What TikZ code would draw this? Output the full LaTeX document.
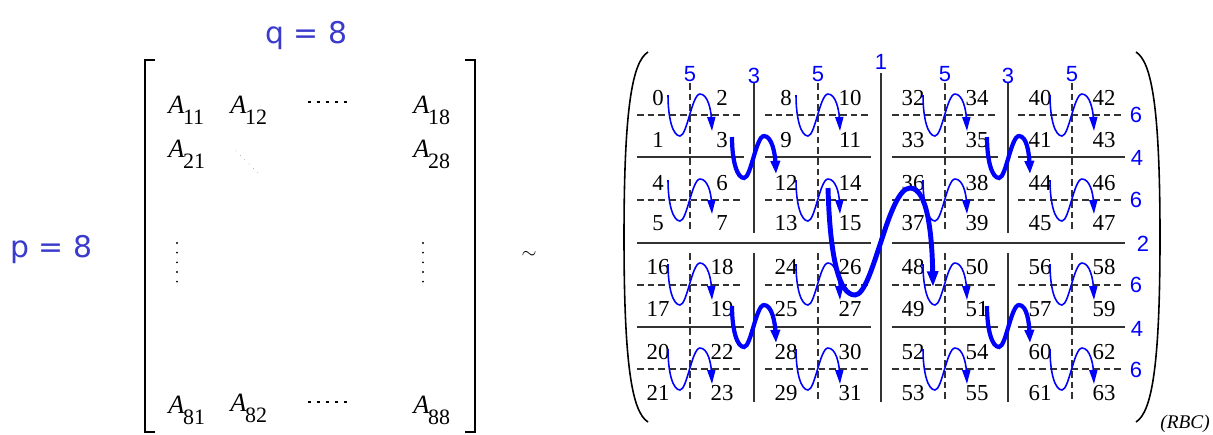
\documentclass[tikz,border=0pt]{standalone}
\usepackage{fontspec}
\setmainfont{Liberation Serif}
\newfontfamily\lblfont{Liberation Sans}
\newfontfamily\pqfont{DejaVu Sans}
\usetikzlibrary{arrows.meta}

\definecolor{pqblue}{RGB}{58,58,204}
\definecolor{gridgray}{RGB}{50,50,50}

% matrix entry A_{ij}
\newcommand{\Aent}[1]{{\fontsize{15}{15}\selectfont\itshape A}\kern-0.8pt\raisebox{-6.8pt}{\fontsize{12.5}{13}\selectfont #1}}
% serpentine arrow from one cell to another
\newcommand{\snake}[3][]{%
  \draw[#1] ([shift={(10,-3)}]#2.center)
    .. controls +(0,24) and +(-7,0) .. ++(12,41)
    .. controls +(7,0) and +(-8,0) .. ++(20,-42)
    .. controls +(8,0) and +(-1,-20) .. ([shift={(-10,-9)}]#3.center);}

\begin{document}
\begin{tikzpicture}[
  x=0.02cm, y=-0.02cm,
  num/.style={font=\fontsize{13}{13}\selectfont, inner sep=1pt},
  lbl/.style={font=\lblfont\fontsize{12.5}{12.5}\selectfont, text=blue, inner sep=0pt},
  pq/.style={font=\pqfont\fontsize{17}{17}\selectfont, text=pqblue, inner sep=0pt, anchor=base west},
  entry/.style={inner sep=0pt, anchor=base west},
  rule/.style={gridgray, line width=1.3pt},
  dashrule/.style={gridgray, line width=0.8pt, dash pattern=on 3.8pt off 2.3pt},
  bracket/.style={line width=1.1pt},
  paren/.style={line width=0.9pt},
  hdots/.style={line width=0.6pt, dash pattern=on 1.7pt off 3.4pt},
  vdots/.style={line width=1.2pt, line cap=round, dash pattern=on 0pt off 5.5pt},
  ddots/.style={gray, line width=0.5pt, line cap=round, dash pattern=on 0pt off 3.5pt},
  thinarr/.style={blue, line width=0.9pt, -{Triangle[length=8pt,width=4.6pt]}},
  thickarr/.style={blue, line width=2.4pt, -{Triangle[length=7.5pt,width=5.2pt]}},
  bigarr/.style={blue, line width=2.8pt, -{Triangle[length=9pt,width=6pt]}}
]
\useasboundingbox (0,0) rectangle (1213,434);

% --- labels p, q ---
\node[pq] (qlab) at (265,43) {q = 8};
\node[pq] (plab) at (10,257) {p = 8};

% --- left matrix ---
\draw[bracket] (155,60) -- (145,60) -- (145,432) -- (155,432);
\draw[bracket] (465,60) -- (475,60) -- (475,432) -- (465,432);
\node[entry] (a11) at (168,113) {\Aent{11}};
\node[entry] (a12) at (230,113) {\Aent{12}};
\node[entry] (a18) at (413,113) {\Aent{18}};
\node[entry] (a21) at (168,157) {\Aent{21}};
\node[entry] (a28) at (413,157) {\Aent{28}};
\node[entry] (a81) at (168,413) {\Aent{81}};
\node[entry] (a82) at (230,411) {\Aent{82}};
\node[entry] (a88) at (413,413) {\Aent{88}};
\draw[hdots] (308,102) -- (347,102);
\draw[hdots] (308,402) -- (347,402);
\draw[vdots] (177,243) -- (177,283);
\draw[vdots] (423,243) -- (423,283);
\draw[ddots] (236,151) -- (261,176);

\node (sim) at (529,255) {\fontsize{11}{11}\selectfont$\sim$};

% --- right matrix: parentheses ---
\draw[paren] (648,52) .. controls (632,62) and (624,110) .. (624,237)
  .. controls (624,365) and (632,412) .. (648,422);
\draw[paren] (1136,52) .. controls (1152,62) and (1160,110) .. (1160,237)
  .. controls (1160,365) and (1152,412) .. (1136,422);

% --- grid ---
\foreach \x in {754,1008} {
  \draw[rule] (\x,83) -- (\x,233);
  \draw[rule] (\x,253) -- (\x,402);
}
\draw[rule] (881,73) -- (881,402);
\foreach \x in {690,818,945,1072} {
  \draw[dashrule] (\x,83) -- (\x,233);
  \draw[dashrule] (\x,253) -- (\x,402);
}
\foreach \a/\b in {637/744,765/871,892/998,1018/1125} {
  \draw[rule] (\a,157) -- (\b,157);
  \draw[rule] (\a,327) -- (\b,327);
  \foreach \y in {115,200,285,369} \draw[dashrule] (\a,\y) -- (\b,\y);
}
\draw[rule] (637,243) -- (871,243);
\draw[rule] (892,243) -- (1125,243);

% --- cell numbers (recursive block order) ---
\foreach \j/\x in {0/658,1/722,2/786,3/850,4/913,5/977,6/1040,7/1104}
  \foreach \i/\y in {0/98,1/140,2/183,3/223,4/267,5/309,6/352,7/393} {
    \pgfmathtruncatemacro\v{32*(\j>3)+16*(\i>3)+8*(mod(\j,4)>1)+4*(mod(\i,4)>1)+2*mod(\j,2)+mod(\i,2)}
    \node[num] (n\v) at (\x,\y) {\v};
  }

% --- blue split labels ---
\node[lbl] (t1) at (690,74) {5};
\node[lbl] (t2) at (754,76) {3};
\node[lbl] (t3) at (818,74) {5};
\node[lbl] (t4) at (881,62) {1};
\node[lbl] (t5) at (945,74) {5};
\node[lbl] (t6) at (1008,76) {3};
\node[lbl] (t7) at (1072,74) {5};
\node[lbl] (s1) at (1136,115) {6};
\node[lbl] (s2) at (1137,158) {4};
\node[lbl] (s3) at (1136,200) {6};
\node[lbl] (s4) at (1143,244) {2};
\node[lbl] (s5) at (1136,285) {6};
\node[lbl] (s6) at (1137,329) {4};
\node[lbl] (s7) at (1136,370) {6};

\node (rbc) at (1185,424) {\fontsize{11}{11}\selectfont\itshape (RBC)};

% --- traversal arrows ---
\foreach \b in {0,4,...,60} {
  \pgfmathtruncatemacro\e{\b+3}
  \snake[thinarr]{n\b}{n\e}
}
\snake[thickarr]{n3}{n12}
\snake[thickarr]{n35}{n44}
\snake[thickarr]{n19}{n28}
\snake[thickarr]{n51}{n60}
\draw[bigarr] ([shift={(-22,5)}]n14.center)
  .. controls +(2,70) and +(-16,0) .. ++(27,107)
  .. controls +(18,0) and +(-22,0) .. ++(55,-107)
  .. controls +(18,0) and +(-1,-50) .. ([shift={(20,-22)}]n49.center);

\end{tikzpicture}
\end{document}
